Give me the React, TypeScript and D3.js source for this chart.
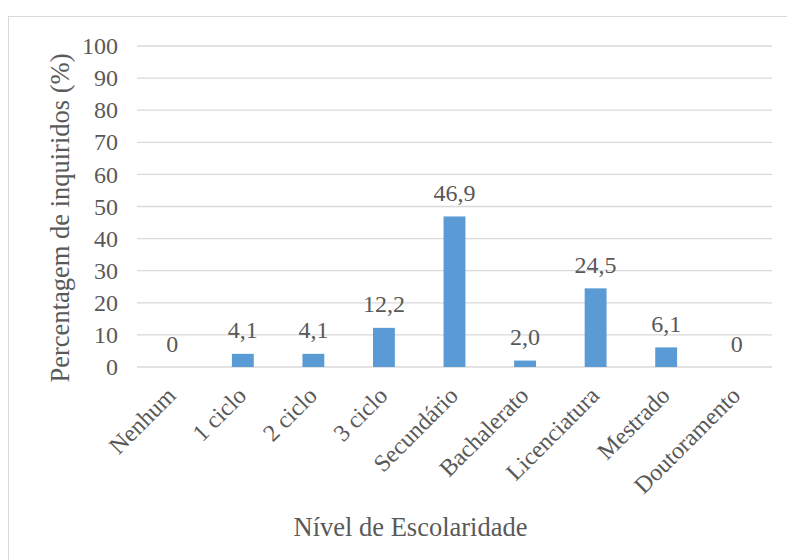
import React from "react";
import * as d3 from "d3";

const categories = ["Nenhum", "1 ciclo", "2 ciclo", "3 ciclo", "Secundário", "Bachalerato", "Licenciatura", "Mestrado", "Doutoramento"];
const values = [0, 4.1, 4.1, 12.2, 46.9, 2.0, 24.5, 6.1, 0];
const valueLabels = ["0", "4,1", "4,1", "12,2", "46,9", "2,0", "24,5", "6,1", "0"];
const yTicks = [0, 10, 20, 30, 40, 50, 60, 70, 80, 90, 100];

const W = 787, H = 560;
const left = 137, right = 772, top = 46, bottom = 367;
const font = "Liberation Serif, Tinos, Times New Roman, serif";
const textColor = "#595959";

export default function App() {
  const x = d3.scaleBand<string>().domain(categories).range([left, right]).paddingInner(0.69).paddingOuter(0.345);
  const y = d3.scaleLinear().domain([0, 100]).range([bottom, top]);
  const ts = { fontFamily: font };
  return (
    <svg width={W} height={H} style={{ position: "absolute", left: 0, top: 0 }}>
      <rect x={0} y={0} width={W} height={H} fill="#fff" />
      <rect x={8.5} y={16.5} width={W + 10} height={H} fill="#fff" stroke="#d9d9d9" strokeWidth={1} />
      {yTicks.map((t) => (
        <g key={t}>
          <line x1={left} x2={right} y1={y(t)} y2={y(t)} stroke="#d9d9d9" strokeWidth={1.3} />
          <text x={118} y={y(t)} dy="0.34em" textAnchor="end" style={ts} fontSize={24} fill={textColor}>{t}</text>
        </g>
      ))}
      {categories.map((c, i) => {
        const bx = x(c)!;
        const cx = bx + x.bandwidth() / 2;
        return (
          <g key={c}>
            {values[i] > 0 && (
              <rect x={bx} y={y(values[i])} width={x.bandwidth()} height={y(0) - y(values[i])} fill="#5b9bd5" />
            )}
            <text x={cx} y={y(values[i]) - 15.5} textAnchor="middle" style={ts} fontSize={24} fill={textColor}>{valueLabels[i]}</text>
            <text transform={`translate(${cx + 5},${bottom + 30}) rotate(-45)`} textAnchor="end" style={ts} fontSize={24} fill={textColor}>{c}</text>
          </g>
        );
      })}
      <text transform={`translate(69,218) rotate(-90)`} textAnchor="middle" style={ts} fontSize={26.5} fill={textColor}>Percentagem de inquiridos (%)</text>
      <text x={410.5} y={536} textAnchor="middle" style={ts} fontSize={26.5} fill={textColor}>Nível de Escolaridade</text>
    </svg>
  );
}
